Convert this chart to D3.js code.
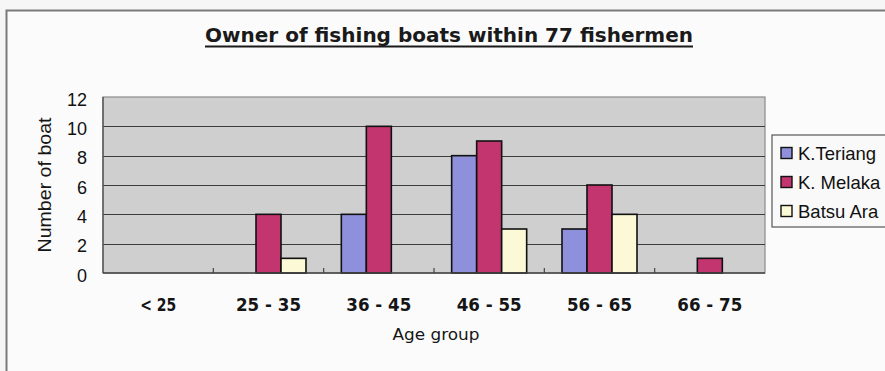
<!DOCTYPE html>
<html>
<head>
<meta charset="utf-8">
<script src="https://cdn.jsdelivr.net/npm/d3@7"></script>
<style>
  html, body { margin: 0; padding: 0; background: #f6f6f6; }
  svg { display: block; }
</style>
</head>
<body>
<svg id="chart" width="885" height="371"></svg>
<script>
// Age groups along the x axis
const categories = ["< 25", "25 - 35", "36 - 45", "46 - 55", "56 - 65", "66 - 75"];
// Boat owners per village, by age group
const seriesNames = ["K.Teriang", "K. Melaka", "Batsu Ara"];
const kTeriang = [0, 0, 4, 8, 3, 0];
const kMelaka  = [0, 4, 10, 9, 6, 1];
const batsuAra = [0, 1, 0, 3, 4, 0];
const yTicks = [0, 2, 4, 6, 8, 10, 12];
const titleText = "Owner of fishing boats within 77 fishermen";
const xTitle = "Age group";
const yTitle = "Number of boat";

const seriesValues = [kTeriang, kMelaka, batsuAra];
const colors = ["#8e90dc", "#c3356f", "#fbf9d6"];

const svg = d3.select("#chart");

// outer chart frame (only top and left edges fall inside the view)
svg.append("rect").attr("x", 6.5).attr("y", 10.5).attr("width", 1000).attr("height", 500)
  .attr("fill", "#fbfbfb").attr("stroke", "#7a7a7a").attr("stroke-width", 2);

const plot = { left: 103, right: 765, top: 97, bottom: 273 };

const x0 = d3.scaleBand().domain(categories).range([plot.left, plot.right]).padding(0);
const groupW = 75;
const x1 = d3.scaleBand().domain(seriesNames)
  .range([(x0.bandwidth() - groupW) / 2, (x0.bandwidth() + groupW) / 2]).padding(0);
const y = d3.scaleLinear().domain([0, 12]).range([plot.bottom, plot.top]);

// plot background
svg.append("rect").attr("x", plot.left).attr("y", plot.top)
  .attr("width", plot.right - plot.left).attr("height", plot.bottom - plot.top)
  .attr("fill", "#d0cfd0").attr("stroke", "#8a8a8a").attr("stroke-width", 1.2);

// horizontal gridlines
svg.append("g").selectAll("line").data(yTicks.filter(v => v > 0 && v < 12)).join("line")
  .attr("x1", plot.left).attr("x2", plot.right)
  .attr("y1", d => Math.round(y(d)) + 0.5).attr("y2", d => Math.round(y(d)) + 0.5)
  .attr("stroke", "#3c3c3c").attr("stroke-width", 1.2);

// bars
const groups = svg.append("g").selectAll("g").data(categories).join("g")
  .attr("transform", d => `translate(${x0(d)},0)`);
groups.selectAll("rect")
  .data((c, i) => seriesNames.map((s, k) => ({ s, k, v: seriesValues[k][i] })).filter(d => d.v > 0))
  .join("rect")
  .attr("x", d => x1(d.s))
  .attr("y", d => y(d.v))
  .attr("width", x1.bandwidth())
  .attr("height", d => y(0) - y(d.v))
  .attr("fill", d => colors[d.k])
  .attr("stroke", "#111").attr("stroke-width", 1.6);

// left and bottom axis lines
svg.append("line").attr("x1", plot.left).attr("x2", plot.left).attr("y1", plot.top).attr("y2", plot.bottom)
  .attr("stroke", "#555").attr("stroke-width", 1.4);
svg.append("line").attr("x1", plot.left).attr("x2", plot.right).attr("y1", plot.bottom).attr("y2", plot.bottom)
  .attr("stroke", "#444").attr("stroke-width", 1.6);

// category boundary tick marks (pointing inward)
svg.append("g").selectAll("line").data(categories.slice(1)).join("line")
  .attr("x1", d => x0(d)).attr("x2", d => x0(d))
  .attr("y1", plot.bottom - 5).attr("y2", plot.bottom)
  .attr("stroke", "#444").attr("stroke-width", 1.2);

// y axis labels
const yAxis = d3.axisLeft(y).tickValues(yTicks).tickSize(0).tickPadding(16).tickFormat(d3.format("d"));
const yg = svg.append("g").attr("transform", `translate(${plot.left},0)`).call(yAxis);
yg.select(".domain").remove();
yg.selectAll("text").attr("font-family", "'Liberation Sans', Arial, sans-serif")
  .attr("font-size", 18).attr("fill", "#111").attr("dy", "0.45em");

// x axis labels
const xAxis = d3.axisBottom(x0).tickSize(0).tickPadding(0);
const xg = svg.append("g").attr("transform", `translate(0,${plot.bottom})`).call(xAxis);
xg.select(".domain").remove();
xg.selectAll("text")
  .attr("y", 37.5).attr("dy", 0)
  .attr("font-family", "'DejaVu Sans Condensed', 'DejaVu Sans', sans-serif")
  .attr("font-weight", "bold").attr("font-size", 17).attr("fill", "#151515")
  .attr("textLength", d => d.length <= 4 ? 36 : 65).attr("lengthAdjust", "spacingAndGlyphs");

// x axis title
svg.append("text").attr("x", 436).attr("y", 340).attr("text-anchor", "middle")
  .attr("font-family", "'DejaVu Sans Condensed', 'DejaVu Sans', sans-serif")
  .attr("font-size", 16.5).attr("fill", "#151515")
  .attr("textLength", 87).attr("lengthAdjust", "spacingAndGlyphs")
  .text(xTitle);

// y axis title
svg.append("text").attr("transform", "translate(51,185) rotate(-90)").attr("text-anchor", "middle")
  .attr("font-family", "'Liberation Sans', Arial, sans-serif")
  .attr("font-size", 18.5).attr("fill", "#151515")
  .attr("textLength", 135).attr("lengthAdjust", "spacingAndGlyphs")
  .text(yTitle);

// chart title with underline
svg.append("text").attr("x", 205).attr("y", 41.5)
  .attr("font-family", "'DejaVu Sans Condensed', 'DejaVu Sans', sans-serif")
  .attr("font-weight", "bold").attr("font-size", 20).attr("fill", "#1a1a1a")
  .attr("textLength", 488).attr("lengthAdjust", "spacingAndGlyphs")
  .text(titleText);
svg.append("line").attr("x1", 205).attr("x2", 693).attr("y1", 46.5).attr("y2", 46.5)
  .attr("stroke", "#1a1a1a").attr("stroke-width", 2);

// legend
const legend = svg.append("g");
legend.append("rect").attr("x", 772).attr("y", 135).attr("width", 140).attr("height", 92)
  .attr("fill", "#f9f9f9").attr("stroke", "#555").attr("stroke-width", 1.2);
const items = legend.selectAll("g.item").data(seriesNames).join("g").attr("class", "item")
  .attr("transform", (d, i) => `translate(781,${147.5 + i * 29})`);
items.append("rect").attr("width", 11).attr("height", 11)
  .attr("fill", (d, i) => colors[i]).attr("stroke", "#111").attr("stroke-width", 1.4);
items.append("text").attr("x", 17).attr("y", 12.5)
  .attr("font-family", "'Liberation Sans', Arial, sans-serif")
  .attr("font-size", 18.5).attr("fill", "#111")
  .text(d => d);
</script>
</body>
</html>
